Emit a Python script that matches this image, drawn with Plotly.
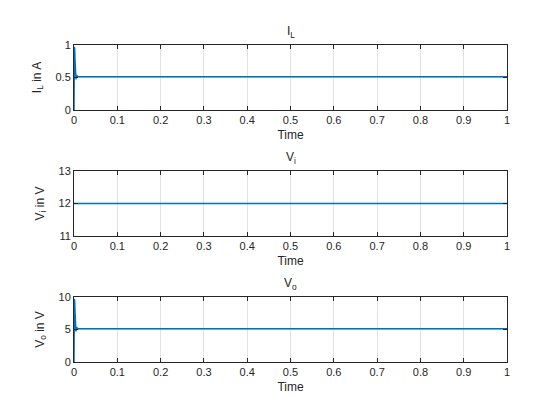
import plotly.graph_objects as go

# Data
time = [0.0, 0.0008, 0.0015, 0.0025, 0.0035, 0.0045, 0.0055, 0.0065, 0.008, 0.01,
        0.02, 0.04, 0.06, 0.1, 0.2, 0.3, 0.4, 0.5, 0.6, 0.7, 0.8, 0.9, 1.0]
i_L = [0.0, 0.97, 0.95, 0.75, 0.55, 0.47, 0.54, 0.50, 0.52, 0.51,
       0.51, 0.51, 0.51, 0.51, 0.51, 0.51, 0.51, 0.51, 0.51, 0.51, 0.51, 0.51, 0.51]
v_i = [12.0] * len(time)
v_o = [0.0, 9.7, 9.5, 7.5, 5.5, 4.7, 5.4, 5.0, 5.2, 5.1,
       5.1, 5.1, 5.1, 5.1, 5.1, 5.1, 5.1, 5.1, 5.1, 5.1, 5.1, 5.1, 5.1]

x_ticks = [0, 0.1, 0.2, 0.3, 0.4, 0.5, 0.6, 0.7, 0.8, 0.9, 1]
x_ticktext = ["0", "0.1", "0.2", "0.3", "0.4", "0.5", "0.6", "0.7", "0.8", "0.9", "1"]
y_ticks = [[0, 0.5, 1], [11, 12, 13], [0, 5, 10]]
y_ticktext = [["0", "0.5", "1"], ["11", "12", "13"], ["0", "5", "10"]]
y_ranges = [[0, 1], [11, 13], [0, 10]]
titles = ["I<sub>L</sub>", "V<sub>i</sub>", "V<sub>o</sub>"]
y_titles = ["I<sub>L</sub> in A", "V<sub>i</sub> in V", "V<sub>o</sub> in V"]
series = [i_L, v_i, v_o]

W, H = 560, 420
OFF = 7  # page body margin offset
left, right = 73 - OFF, 506 - OFF
panels = [(44 - OFF, 109 - OFF), (170 - OFF, 235 - OFF), (296 - OFF, 361 - OFF)]

fig = go.Figure()
FONT = "Liberation Sans, Arial, sans-serif"
TXT = "#262626"
LINE = "#0072BD"

layout = dict(
    width=W, height=H,
    margin=dict(l=0, r=0, t=0, b=0),
    paper_bgcolor="white", plot_bgcolor="white",
    showlegend=False,
    font=dict(family=FONT, size=11, color=TXT),
    annotations=[],
)

for k, (top, bot) in enumerate(panels):
    n = "" if k == 0 else str(k + 1)
    fig.add_trace(go.Scatter(x=time, y=series[k], mode="lines",
                             line=dict(color=LINE, width=1.5),
                             xaxis="x" + n, yaxis="y" + n))
    axcommon = dict(showline=True, linecolor=TXT, linewidth=1, mirror="ticks",
                    ticks="inside", ticklen=4, tickcolor=TXT, automargin=False,
                    showgrid=True, gridcolor="#e1e1e1", gridwidth=1,
                    zeroline=False, tickfont=dict(size=11, color=TXT, family=FONT))
    layout["xaxis" + n] = dict(
        domain=[left / W, right / W], anchor="y" + n,
        range=[0, 1], tickvals=x_ticks, ticktext=x_ticktext,
        title=dict(text="Time", font=dict(size=12, color=TXT, family=FONT), standoff=5),
        **axcommon)
    layout["yaxis" + n] = dict(
        domain=[1 - bot / H, 1 - top / H], anchor="x" + n,
        range=y_ranges[k], tickvals=y_ticks[k], ticktext=y_ticktext[k],
        title=dict(text=y_titles[k], font=dict(size=12, color=TXT, family=FONT), standoff=11),
        **axcommon)
    layout["annotations"].append(dict(
        text=titles[k], x=(left + right) / 2 / W, y=1 - (top - 3) / H,
        xref="paper", yref="paper", xanchor="center", yanchor="bottom",
        showarrow=False, font=dict(size=12, color=TXT, family=FONT)))

fig.update_layout(**layout)
fig.write_html("out.html")
